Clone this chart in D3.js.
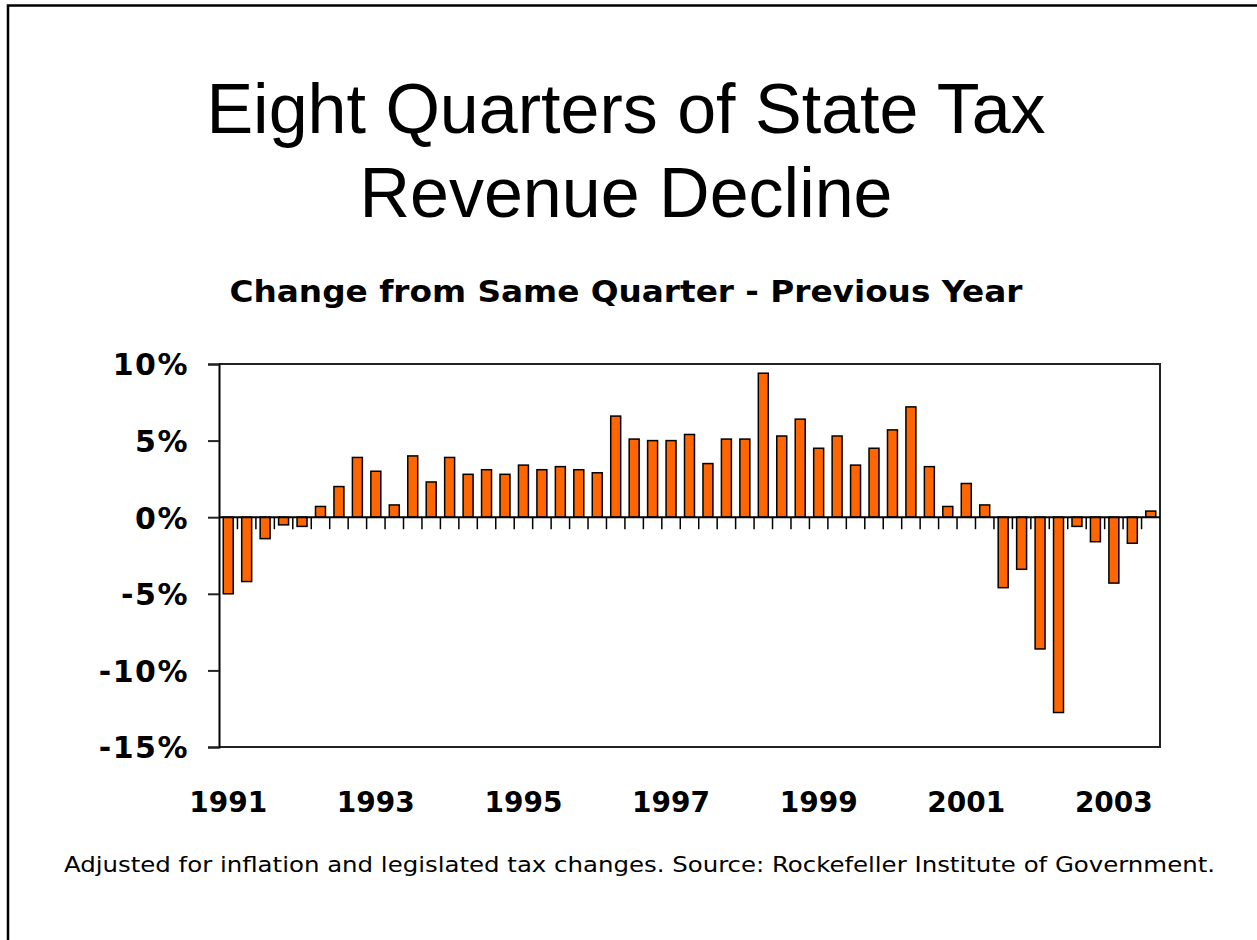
<!DOCTYPE html>
<html>
<head>
<meta charset="utf-8">
<script src="https://cdn.jsdelivr.net/npm/d3@7"></script>
<style>
  html, body { margin: 0; padding: 0; background: #fff; }
  svg { display: block; }
</style>
</head>
<body>
<svg id="chart" width="1257" height="940"></svg>
<script>
// ---- Data ----
const titleLines = ["Eight Quarters of State Tax", "Revenue Decline"];
const subtitle = "Change from Same Quarter - Previous Year";
const footnote = "Adjusted for inflation and legislated tax changes. Source: Rockefeller Institute of Government.";

const years = [1991,1992,1993,1994,1995,1996,1997,1998,1999,2000,2001,2002,2003];
const quarterNames = ["Q1","Q2","Q3","Q4"];
// 1991 Q1 .. 2003 Q3 (51 quarters), % change from same quarter previous year
const values = [
  -5.0, -4.2, -1.4, -0.5,   // 1991
  -0.6,  0.7,  2.0,  3.9,   // 1992
   3.0,  0.8,  4.0,  2.3,   // 1993
   3.9,  2.8,  3.1,  2.8,   // 1994
   3.4,  3.1,  3.3,  3.1,   // 1995
   2.9,  6.6,  5.1,  5.0,   // 1996
   5.0,  5.4,  3.5,  5.1,   // 1997
   5.1,  9.4,  5.3,  6.4,   // 1998
   4.5,  5.3,  3.4,  4.5,   // 1999
   5.7,  7.2,  3.3,  0.7,   // 2000
   2.2,  0.8, -4.6, -3.4,   // 2001
  -8.6, -12.75, -0.6, -1.6, // 2002
  -4.3, -1.7,  0.4          // 2003
];
const quarters = values.map((v, i) => years[Math.floor(i / 4)] + " " + quarterNames[i % 4]);
const yearTickLabels = ["1991","1993","1995","1997","1999","2001","2003"];
const yTickValues = [-15, -10, -5, 0, 5, 10];

// ---- Layout ----
const svg = d3.select("#chart");
const plot = { left: 219, right: 1160, top: 364, bottom: 747 };

const x = d3.scaleBand()
  .domain(quarters)
  .range([plot.left, plot.right])
  .paddingInner(0.46)
  .paddingOuter(0.23);

const y = d3.scaleLinear()
  .domain([-15, 10])
  .range([plot.bottom, plot.top]);

// Slide border (top and left)
svg.append("path")
  .attr("d", "M8,940 V5.5 H1257")
  .attr("fill", "none")
  .attr("stroke", "#000")
  .attr("stroke-width", 2.5);

// Titles
svg.append("g").selectAll("text")
  .data(titleLines)
  .join("text")
  .attr("x", 626)
  .attr("y", (d, i) => 133 + i * 84)
  .attr("text-anchor", "middle")
  .attr("font-family", "'Liberation Sans', Arial, sans-serif")
  .attr("font-size", 70)
  .attr("fill", "#000")
  .text(d => d);

svg.append("text")
  .attr("x", 626)
  .attr("y", 302)
  .attr("text-anchor", "middle")
  .attr("font-family", "'DejaVu Sans Condensed', 'DejaVu Sans', sans-serif")
  .attr("font-weight", "bold")
  .attr("font-size", 31)
  .attr("textLength", 793)
  .attr("lengthAdjust", "spacingAndGlyphs")
  .text(subtitle);

// Plot frame (top, right, bottom)
svg.append("path")
  .attr("d", `M${plot.left},${plot.top} H${plot.right} V${plot.bottom} H${plot.left}`)
  .attr("fill", "none")
  .attr("stroke", "#222")
  .attr("stroke-width", 2);

// Bars
svg.append("g").selectAll("rect")
  .data(values)
  .join("rect")
  .attr("x", (d, i) => x(quarters[i]))
  .attr("width", x.bandwidth())
  .attr("y", d => y(Math.max(0, d)))
  .attr("height", d => Math.abs(y(d) - y(0)))
  .attr("fill", "#FF6600")
  .attr("stroke", "#000")
  .attr("stroke-width", 1.5);

// Zero line with category-boundary ticks below
const zeroY = y(0);
svg.append("line")
  .attr("x1", plot.left).attr("x2", plot.right)
  .attr("y1", zeroY).attr("y2", zeroY)
  .attr("stroke", "#000").attr("stroke-width", 2);

const boundaries = quarters.slice(1).map(q => x(q) - x.step() * x.paddingInner() / 2);
svg.append("g").selectAll("line")
  .data(boundaries)
  .join("line")
  .attr("x1", d => d).attr("x2", d => d)
  .attr("y1", zeroY).attr("y2", zeroY + 12)
  .attr("stroke", "#000").attr("stroke-width", 1.5);

// Y axis
const yAxis = d3.axisLeft(y)
  .tickValues(yTickValues)
  .tickSize(11)
  .tickPadding(19)
  .tickFormat(d => d + "%");

const yG = svg.append("g")
  .attr("transform", `translate(${plot.left},0)`)
  .call(yAxis);
yG.select(".domain").attr("stroke", "#000").attr("stroke-width", 2);
yG.selectAll(".tick line").attr("stroke", "#222").attr("stroke-width", 2);
yG.selectAll(".tick text")
  .attr("font-family", "'DejaVu Sans', sans-serif")
  .attr("font-weight", "bold")
  .attr("font-size", 30)
  .attr("letter-spacing", 1.5)
  .attr("fill", "#000")
  .attr("dy", "0.36em");

// Year labels
const yearIdx = yearTickLabels.map(yl => quarters.indexOf(yl + " Q1"));
svg.append("g").selectAll("text")
  .data(yearIdx)
  .join("text")
  .attr("x", i => x(quarters[i]) + x.bandwidth() / 2)
  .attr("y", 812)
  .attr("text-anchor", "middle")
  .attr("font-family", "'DejaVu Sans', sans-serif")
  .attr("font-weight", "bold")
  .attr("font-size", 28)
  .attr("fill", "#000")
  .text((i, k) => yearTickLabels[k]);

// Footnote
svg.append("text")
  .attr("x", 639.5)
  .attr("y", 872)
  .attr("text-anchor", "middle")
  .attr("font-family", "'DejaVu Sans Condensed', 'DejaVu Sans', sans-serif")
  .attr("font-size", 22)
  .attr("textLength", 1151)
  .attr("lengthAdjust", "spacingAndGlyphs")
  .attr("fill", "#000")
  .text(footnote);
</script>
</body>
</html>
